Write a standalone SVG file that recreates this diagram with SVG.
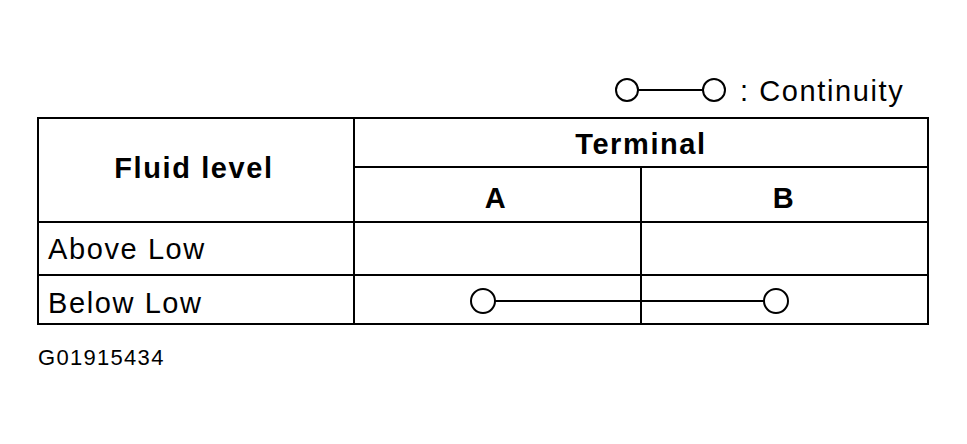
<svg xmlns="http://www.w3.org/2000/svg" width="967" height="444" viewBox="0 0 967 444">
<style>
.l{stroke:#000;stroke-width:2;fill:none}
.c{stroke:#000;stroke-width:2;fill:#fff}
.t{font-family:"Liberation Sans",Arial,sans-serif;font-size:29px;letter-spacing:1.6px;fill:#000}
.b{font-family:"Liberation Sans",Arial,sans-serif;font-size:29px;letter-spacing:1.6px;font-weight:bold;fill:#000}
</style>
<rect width="967" height="444" fill="#fff"/>
<g id="table">
<rect x="38" y="118" width="890" height="206" class="l" stroke-width="2.5"/>
<line x1="354" y1="118" x2="354" y2="324" class="l"/>
<line x1="641" y1="167" x2="641" y2="324" class="l"/>
<line x1="354" y1="167" x2="928" y2="167" class="l"/>
<line x1="38" y1="222" x2="928" y2="222" class="l"/>
<line x1="38" y1="275" x2="928" y2="275" class="l"/>
<text x="194" y="178" class="b" text-anchor="middle">Fluid level</text>
<text x="641" y="154" class="b" text-anchor="middle">Terminal</text>
<text x="496" y="208" class="b" text-anchor="middle">A</text>
<text x="784" y="208" class="b" text-anchor="middle">B</text>
<text x="48" y="259" class="t">Above Low</text>
<text x="48" y="313" class="t">Below Low</text>
</g>
<g id="connectors">
<line x1="495" y1="301" x2="764" y2="301" class="l"/>
<line x1="638" y1="90" x2="703" y2="90" class="l"/>
</g>
<g id="continuity">
<circle cx="483" cy="301" r="12" class="c"/>
<circle cx="776" cy="301" r="12" class="c"/>
</g>
<g id="legend">
<circle cx="627" cy="90" r="11" class="c"/>
<circle cx="714" cy="90" r="11" class="c"/>
<text x="740" y="101" class="t">: Continuity</text>
</g>
<text x="38" y="365" class="t" style="font-size:22px;letter-spacing:1.3px">G01915434</text>
</svg>
